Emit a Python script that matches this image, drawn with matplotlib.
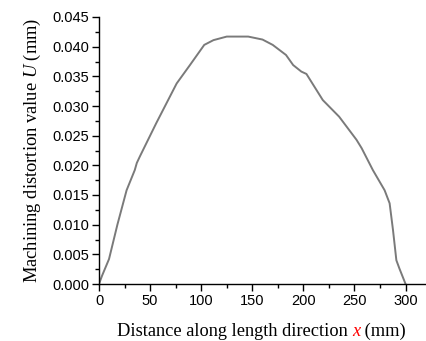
import matplotlib
matplotlib.use("Agg")
import matplotlib.pyplot as plt
from matplotlib.ticker import MultipleLocator

x_mm = [0, 3, 9.8, 18, 27, 35, 37, 40, 56, 76, 89, 103, 112, 125, 146, 160,
        170, 183, 190, 198, 203, 219, 235, 252, 257, 268, 279.5, 284.4,
        287.7, 291, 294, 300]
U_mm = [0, 0.0014, 0.0042, 0.0100, 0.0158, 0.0192, 0.0204, 0.0215, 0.0271,
        0.0338, 0.0369, 0.0403, 0.0411, 0.0417, 0.0417, 0.0412, 0.0403,
        0.0386, 0.0369, 0.0358, 0.0354, 0.0310, 0.0282, 0.0243, 0.0229,
        0.0192, 0.0158, 0.0136, 0.0091, 0.0040, 0.0026, 0]

x_ticks = [0, 50, 100, 150, 200, 250, 300]
y_ticks = [0.000, 0.005, 0.010, 0.015, 0.020, 0.025, 0.030, 0.035, 0.040, 0.045]

serif = "Liberation Serif"
plt.rcParams["mathtext.fontset"] = "custom"
plt.rcParams["mathtext.rm"] = serif
plt.rcParams["mathtext.it"] = serif + ":italic"

fig = plt.figure(figsize=(4.26, 3.41), dpi=100)
ax = fig.add_axes([99/426, 57/341, 1 - 99/426, (284-17)/341])
ax.plot(x_mm, U_mm, color="#7a7a7a", lw=1.4)
ax.set_xlim(0, 320)
ax.set_ylim(0, 0.045)
ax.set_xticks(x_ticks)
ax.set_yticks(y_ticks)
ax.set_yticklabels([f"{v:.3f}" for v in y_ticks])
ax.xaxis.set_minor_locator(MultipleLocator(25))
ax.yaxis.set_minor_locator(MultipleLocator(0.0025))
for s in ["top", "right"]:
    ax.spines[s].set_visible(False)
for s in ["left", "bottom"]:
    ax.spines[s].set_linewidth(1.0)
ax.tick_params(which="major", direction="out", length=5, width=1,
               labelsize=10.5, pad=2)
ax.tick_params(which="minor", direction="out", length=3, width=1)
for lab in ax.get_xticklabels() + ax.get_yticklabels():
    lab.set_family("Liberation Sans")

ax.set_ylabel("Machining distortion value $U$ (mm)", family=serif,
              fontsize=13.3)
ax.yaxis.set_label_coords(-0.172, 0.5)

# x label with red italic x, pieces laid out consecutively
fig.canvas.draw()
r = fig.canvas.get_renderer()
pieces = [("Distance along length direction ", "black", "normal"),
          ("x", "red", "italic"),
          (" (mm)", "black", "normal")]
ypix = 331
texts = []
widths = []
for s, c, st in pieces:
    t = fig.text(0, 1 - ypix/341, s, color=c, style=st, family=serif,
                 fontsize=13.2, va="center", ha="left")
    widths.append(t.get_window_extent(r).width)
    texts.append(t)
total = sum(widths)
xc = 261.5
start = xc - total/2
for t, w in zip(texts, widths):
    t.set_x(start/426)
    start += w

fig.savefig("out.png", dpi=100)
